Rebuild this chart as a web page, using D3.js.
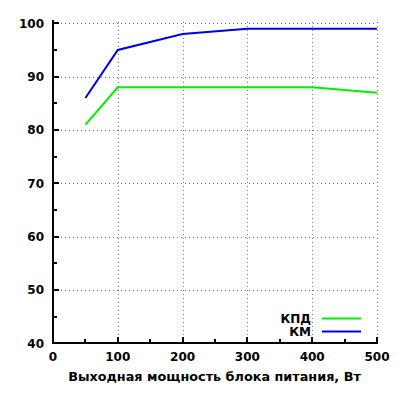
<!DOCTYPE html>
<html>
<head>
<meta charset="utf-8">
<script src="https://cdn.jsdelivr.net/npm/d3@7"></script>
<style>
  body { margin: 0; background: #fff; }
  svg { display: block; font-family: "DejaVu Sans", Verdana, sans-serif; font-weight: bold; }
</style>
</head>
<body>
<div id="chart"></div>
<script>
(function () {
  // data
  const power = [50, 100, 200, 300, 400, 500];
  const kpd = [81, 88, 88, 88, 88, 87];
  const km = [86, 95, 98, 99, 99, 99];
  const seriesNames = ["КПД", "КМ"];
  const seriesColors = ["#00ee00", "#0000e6"];
  const xTicks = [0, 100, 200, 300, 400, 500];
  const yTicks = [40, 50, 60, 70, 80, 90, 100];
  const xMinor = [50, 150, 250, 350, 450];
  const yMinor = [45, 55, 65, 75, 85, 95];
  const xTitle = "Выходная мощность блока питания, Вт";

  const width = 400, height = 400;
  const left = 53, right = 377, top = 23.3, bottom = 343.3;

  const x = d3.scaleLinear().domain([0, 500]).range([left, right]);
  const y = d3.scaleLinear().domain([40, 100]).range([bottom, top]);

  const svg = d3.select("#chart").append("svg")
    .attr("width", width).attr("height", height);

  // dotted grid
  const grid = svg.append("g")
    .attr("stroke", "#777")
    .attr("stroke-width", 1)
    .attr("stroke-dasharray", "1,3")
    .attr("shape-rendering", "crispEdges");

  grid.selectAll("line.v")
    .data(xTicks.slice(1))
    .join("line")
    .attr("x1", d => Math.round(x(d)) + 0.5).attr("x2", d => Math.round(x(d)) + 0.5)
    .attr("y1", bottom).attr("y2", top - 3);

  grid.selectAll("line.h")
    .data(yTicks.slice(1))
    .join("line")
    .attr("y1", d => Math.round(y(d)) + 0.5).attr("y2", d => Math.round(y(d)) + 0.5)
    .attr("x1", left).attr("x2", right);

  // axes (left + bottom only)
  const ax = svg.append("g")
    .attr("stroke", "#000")
    .attr("stroke-width", 2)
    .attr("shape-rendering", "crispEdges");

  ax.append("line")
    .attr("x1", left).attr("x2", left)
    .attr("y1", bottom + 1).attr("y2", top - 3);
  ax.append("line")
    .attr("x1", left - 1).attr("x2", right + 1)
    .attr("y1", bottom).attr("y2", bottom);

  ax.selectAll("line.xm")
    .data(xMinor)
    .join("line")
    .attr("x1", d => x(d)).attr("x2", d => x(d))
    .attr("y1", bottom).attr("y2", bottom - 4);
  ax.selectAll("line.xM")
    .data(xTicks.slice(1))
    .join("line")
    .attr("x1", d => x(d)).attr("x2", d => x(d))
    .attr("y1", bottom).attr("y2", bottom - 6);

  ax.selectAll("line.ym")
    .data(yMinor)
    .join("line")
    .attr("y1", d => y(d)).attr("y2", d => y(d))
    .attr("x1", left).attr("x2", left + 4);
  ax.selectAll("line.yM")
    .data(yTicks.slice(1))
    .join("line")
    .attr("y1", d => y(d)).attr("y2", d => y(d))
    .attr("x1", left).attr("x2", left + 6);

  // tick labels
  svg.append("g")
    .attr("font-size", 12)
    .attr("text-anchor", "middle")
    .selectAll("text")
    .data(xTicks)
    .join("text")
    .attr("x", d => x(d))
    .attr("y", 361)
    .text(d => d);

  svg.append("g")
    .attr("font-size", 12)
    .attr("text-anchor", "end")
    .selectAll("text")
    .data(yTicks)
    .join("text")
    .attr("x", 44)
    .attr("y", d => y(d) + 4.5)
    .text(d => d);

  svg.append("text")
    .attr("x", (left + right) / 2 - 0.5)
    .attr("y", 380.5)
    .attr("text-anchor", "middle")
    .attr("font-size", 12.8)
    .text(xTitle);

  // lines
  const line = d3.line()
    .x(d => x(d[0]))
    .y(d => y(d[1]));

  [kpd, km].forEach((vals, i) => {
    svg.append("path")
      .datum(power.map((p, j) => [p, vals[j]]))
      .attr("fill", "none")
      .attr("stroke", seriesColors[i])
      .attr("stroke-width", 2)
      .attr("d", line);
  });

  // legend
  const legend = svg.append("g");
  seriesNames.forEach((name, i) => {
    const ly = 318.5 + i * 13;
    legend.append("text")
      .attr("x", 311)
      .attr("y", ly + 4.5)
      .attr("text-anchor", "end")
      .attr("font-size", 12)
      .text(name);
    legend.append("line")
      .attr("x1", 322).attr("x2", 361)
      .attr("y1", ly).attr("y2", ly)
      .attr("stroke", seriesColors[i])
      .attr("stroke-width", 2);
  });
})();
</script>
</body>
</html>
